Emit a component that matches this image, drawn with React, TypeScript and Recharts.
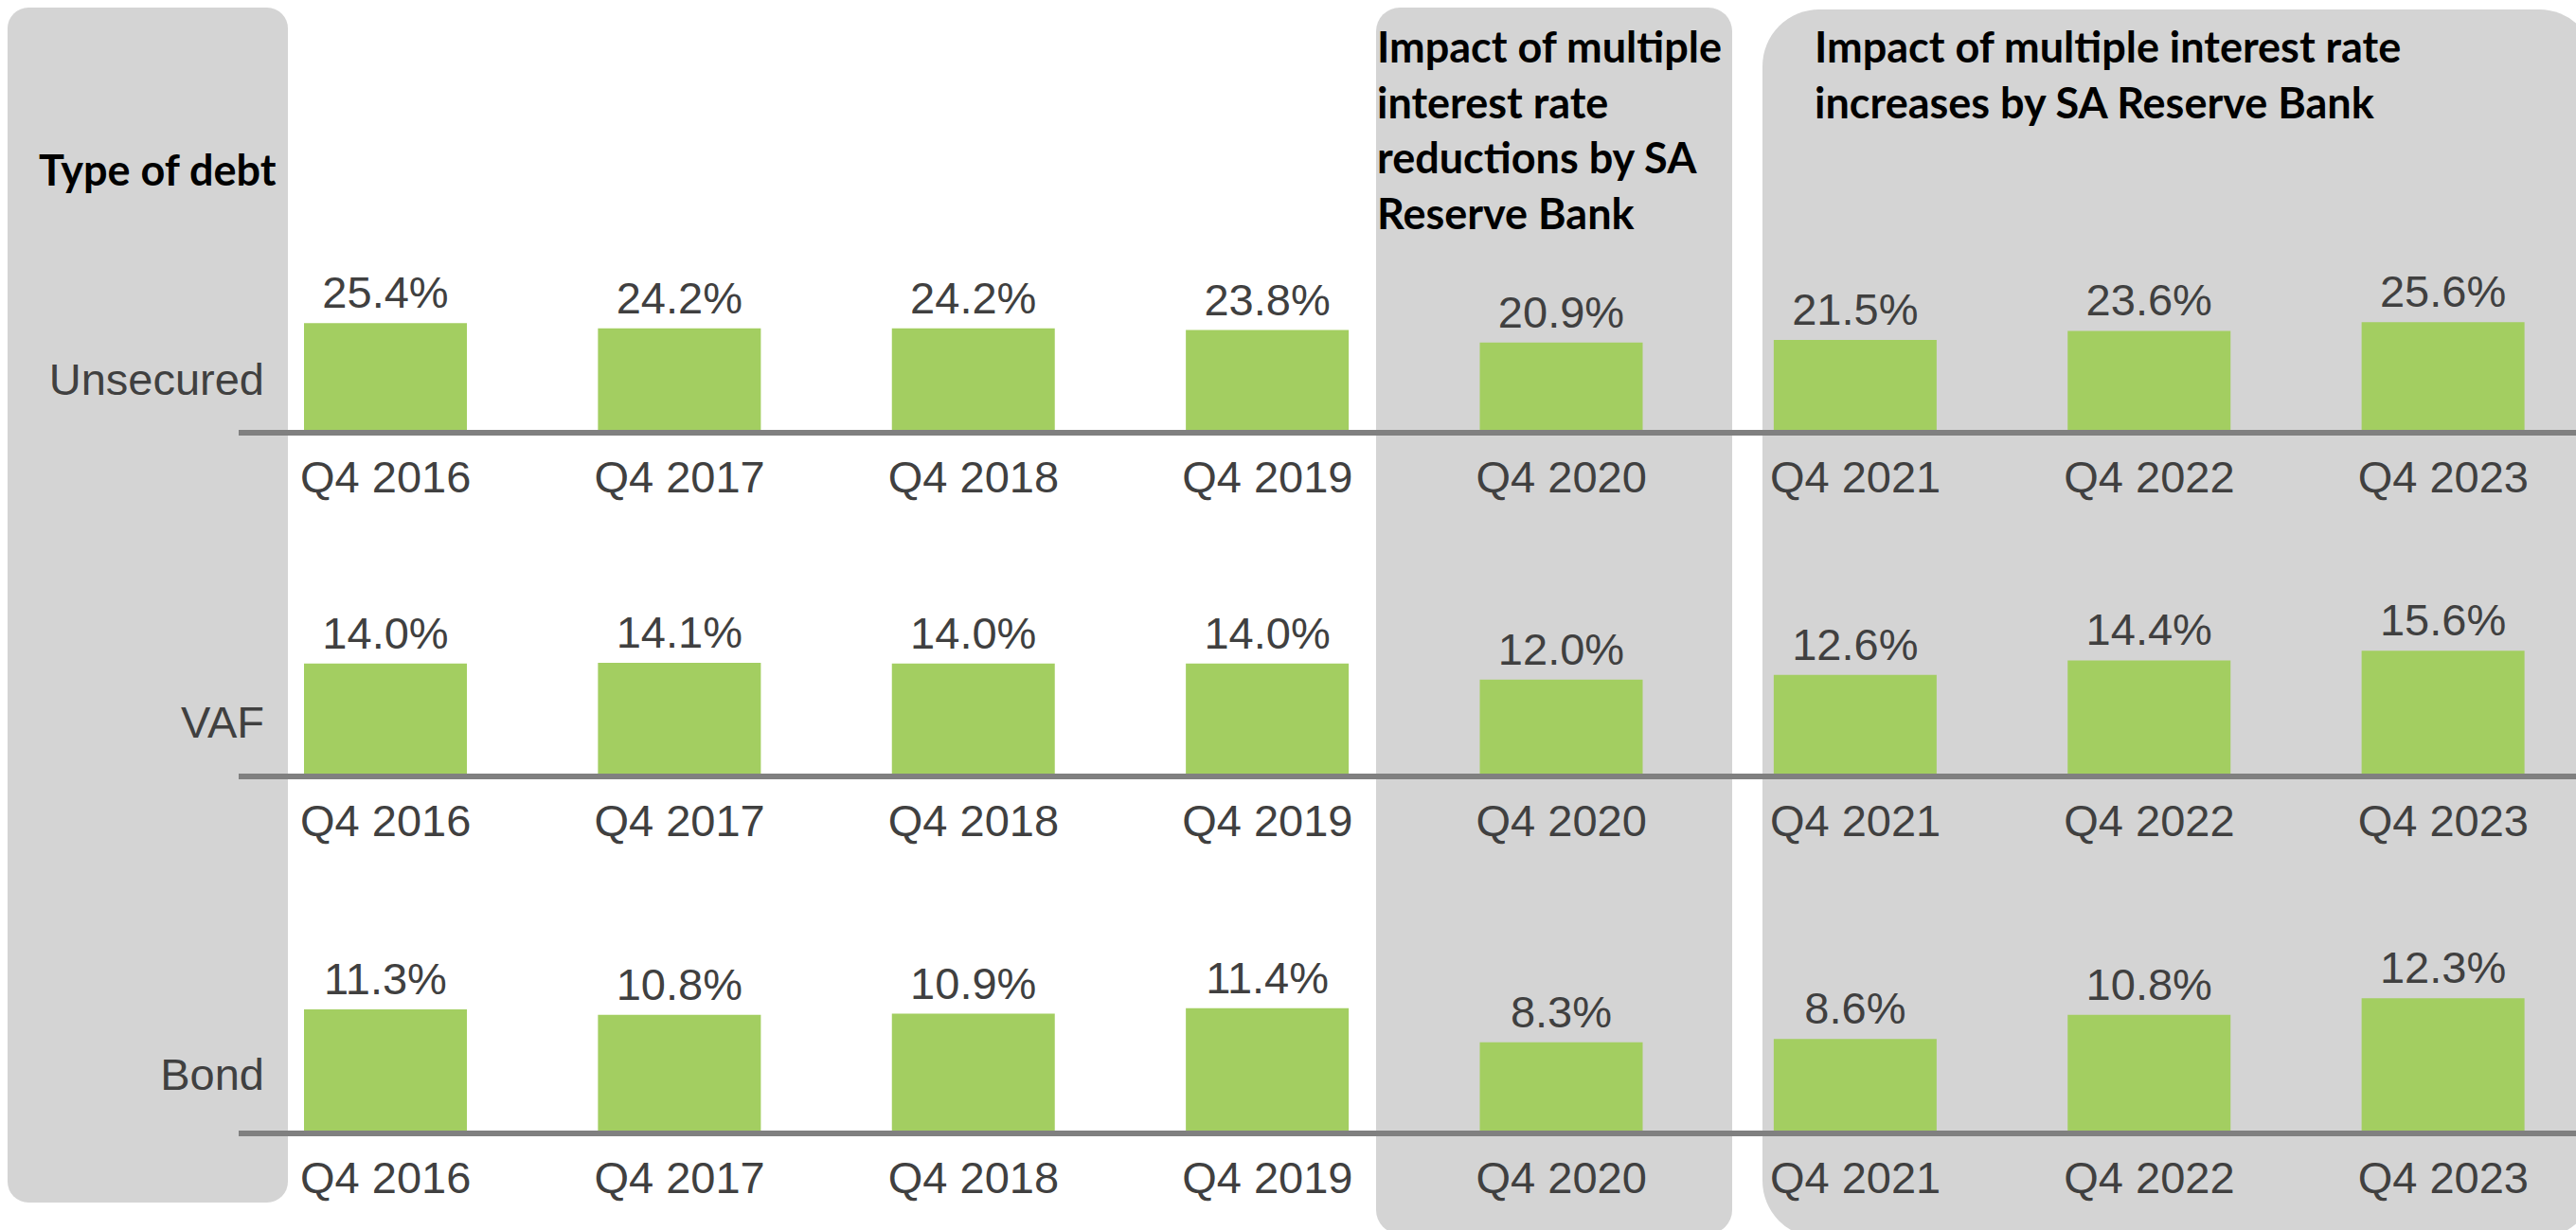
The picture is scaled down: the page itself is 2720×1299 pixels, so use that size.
import React from 'react';
import { BarChart, Bar, XAxis, YAxis, LabelList } from 'recharts';

// ---- data ----
const categories = ['Q4 2016', 'Q4 2017', 'Q4 2018', 'Q4 2019', 'Q4 2020', 'Q4 2021', 'Q4 2022', 'Q4 2023'];
const unsecured = [25.4, 24.2, 24.2, 23.8, 20.9, 21.5, 23.6, 25.6];
const vaf = [14.0, 14.1, 14.0, 14.0, 12.0, 12.6, 14.4, 15.6];
const bond = [11.3, 10.8, 10.9, 11.4, 8.3, 8.6, 10.8, 12.3];
const rowLabels = ['Unsecured', 'VAF', 'Bond'];
const seriesList = [unsecured, vaf, bond];
const headerLabel = 'Type of debt';
const reductionHeading = ['Impact of multiple', 'interest rate', 'reductions by SA', 'Reserve Bank'];
const increaseHeading = ['Impact of multiple interest rate', 'increases by SA Reserve Bank'];

// ---- layout / style ----
const PAGE_W = 2720;
const PAGE_H = 1299;
const CHART_W = 2740;
const PLOT_LEFT = 252;
const PLOT_H = 200;
const MARGIN_TOP = 70;
const AXIS_H = 90;
const CHART_H = MARGIN_TOP + PLOT_H + AXIS_H;
const GREEN = '#A3CE61';
const PANEL = '#D4D4D4';
const AXIS = '#808080';
const TEXT = '#404040';
const NUM_FONT = '"Liberation Sans", Arial, sans-serif';
const HEAD_FONT = 'Lato, "Open Sans", sans-serif';
const FS = 47;
const HFS = 45;

const rowLayout = [
  { axisY: 456.7, yMax: 43.9, labelY: 417 },
  { axisY: 820, yMax: 23.5, labelY: 779 },
  { axisY: 1196.5, yMax: 17.24, labelY: 1151 },
];

const Tick = (props: any) => {
  const { x, y, payload } = props;
  return (
    <text x={x} y={y + 63} textAnchor="middle" fontSize={FS} fontFamily={NUM_FONT} fill={TEXT}>
      {payload.value}
    </text>
  );
};

const fmt = (v: any) => `${Number(v).toFixed(1)}%`;

function Row({ series, idx }: { series: number[]; idx: number }) {
  const lay = rowLayout[idx];
  const data = categories.map((c, i) => ({ cat: c, v: series[i] }));
  return (
    <div style={{ position: 'absolute', left: 0, top: lay.axisY - MARGIN_TOP - PLOT_H, width: CHART_W, height: CHART_H }}>
      <BarChart
        width={CHART_W}
        height={CHART_H}
        data={data}
        margin={{ top: MARGIN_TOP, right: CHART_W - PLOT_LEFT - 2483, bottom: 0, left: PLOT_LEFT }}
      >
        <YAxis hide domain={[0, lay.yMax]} allowDataOverflow />
        <Bar dataKey="v" fill={GREEN} barSize={172} isAnimationActive={false}>
          <LabelList
            dataKey="v"
            position="top"
            offset={16}
            formatter={fmt}
            fill={TEXT}
            fontSize={FS}
            fontFamily={NUM_FONT}
          />
        </Bar>
        <XAxis
          dataKey="cat"
          height={AXIS_H}
          tickLine={false}
          tickSize={0}
          tickMargin={0}
          interval={0}
          axisLine={{ stroke: AXIS, strokeWidth: 6 }}
          tick={<Tick />}
        />
      </BarChart>
    </div>
  );
}

export default function App() {
  return (
    <div style={{ position: 'absolute', left: 0, top: 0, width: PAGE_W, height: PAGE_H, overflow: 'hidden', background: '#fff' }}>
      <svg width={PAGE_W} height={PAGE_H} style={{ position: 'absolute', left: 0, top: 0 }}>
        <rect x={8} y={8} width={296} height={1262} rx={22} fill={PANEL} />
        <rect x={1453} y={8} width={376} height={1295} rx={25} fill={PANEL} />
        <rect x={1861} y={10} width={880} height={1297} rx={60} fill={PANEL} />
        <text x={41} y={196} fontFamily={HEAD_FONT} fontWeight={700} fontSize={HFS} fill="#000">
          {headerLabel}
        </text>
        {reductionHeading.map((t, i) => (
          <text key={t} x={1454} y={66 + i * 58.5} fontFamily={HEAD_FONT} fontWeight={700} fontSize={HFS} fill="#000">
            {t}
          </text>
        ))}
        {increaseHeading.map((t, i) => (
          <text key={t} x={1916} y={66 + i * 58.5} fontFamily={HEAD_FONT} fontWeight={700} fontSize={HFS} fill="#000">
            {t}
          </text>
        ))}
        {rowLabels.map((t, i) => (
          <text key={t} x={279} y={rowLayout[i].labelY} textAnchor="end" fontFamily={NUM_FONT} fontSize={FS} fill={TEXT}>
            {t}
          </text>
        ))}
      </svg>
      {seriesList.map((s, i) => (
        <Row key={rowLabels[i]} series={s} idx={i} />
      ))}
    </div>
  );
}
